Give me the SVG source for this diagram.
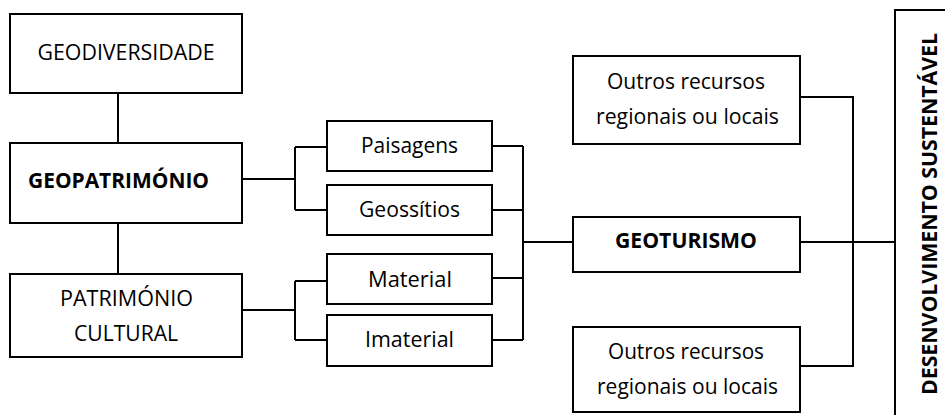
<svg xmlns="http://www.w3.org/2000/svg" width="945" height="415" viewBox="0 0 945 415">
<style>
.box{fill:#fff;stroke:#000;stroke-width:2}
.ln{fill:none;stroke:#000;stroke-width:2}
.t{font-family:"Open Sans","Noto Sans","Liberation Sans",sans-serif;font-size:21px;fill:#000;text-anchor:middle}
.b{font-weight:bold}
</style>
<rect width="945" height="415" fill="#fff"/>
<g id="connectors" class="ln">
<path d="M118 93V143"/>
<path d="M118 223V274"/>
<path d="M242 179H295M295 147V210M295 147H327M295 210H327"/>
<path d="M242 310H295M295 281V340M295 281H327M295 340H327"/>
<path d="M492 146H523M492 210H523M492 278H523M492 340H523M523 146V340M523 242H573"/>
<path d="M800 97H853V366H800M800 242H895"/>
</g>
<g id="geodiversidade"><rect class="box" x="10" y="14" width="232" height="79"/><text class="t" x="126" y="60" textLength="177" lengthAdjust="spacingAndGlyphs">GEODIVERSIDADE</text></g>
<g id="geopatrimonio"><rect class="box" x="10" y="143" width="232" height="80"/><text class="t b" x="28" y="188" style="text-anchor:start" textLength="181" lengthAdjust="spacingAndGlyphs">GEOPATRIMÓNIO</text></g>
<g id="patrimonio-cultural"><rect class="box" x="10" y="274" width="232" height="83"/><text class="t" x="126.5" y="306" textLength="133" lengthAdjust="spacingAndGlyphs">PATRIMÓNIO</text><text class="t" x="126" y="341" textLength="104" lengthAdjust="spacingAndGlyphs">CULTURAL</text></g>
<g id="paisagens"><rect class="box" x="327" y="121" width="165" height="50"/><text class="t" x="409.5" y="153" textLength="97" lengthAdjust="spacingAndGlyphs">Paisagens</text></g>
<g id="geossitios"><rect class="box" x="327" y="185" width="165" height="50"/><text class="t" x="409.5" y="217" textLength="101" lengthAdjust="spacingAndGlyphs">Geossítios</text></g>
<g id="material"><rect class="box" x="327" y="254" width="165" height="50"/><text class="t" x="410" y="287" textLength="84" lengthAdjust="spacingAndGlyphs">Material</text></g>
<g id="imaterial"><rect class="box" x="327" y="315" width="165" height="51"/><text class="t" x="409.5" y="347" textLength="89" lengthAdjust="spacingAndGlyphs">Imaterial</text></g>
<g id="outros1"><rect class="box" x="573" y="56" width="227" height="88"/><text class="t" x="686" y="89" textLength="158" lengthAdjust="spacingAndGlyphs">Outros recursos</text><text class="t" x="687.5" y="124" textLength="183" lengthAdjust="spacingAndGlyphs">regionais ou locais</text></g>
<g id="geoturismo"><rect class="box" x="573" y="217" width="227" height="55"/><text class="t b" x="686" y="248" textLength="142" lengthAdjust="spacingAndGlyphs">GEOTURISMO</text></g>
<g id="outros2"><rect class="box" x="573" y="327" width="227" height="85"/><text class="t" x="686" y="359" textLength="156" lengthAdjust="spacingAndGlyphs">Outros recursos</text><text class="t" x="687.5" y="394" textLength="181" lengthAdjust="spacingAndGlyphs">regionais ou locais</text></g>
<g id="desenvolvimento"><path class="ln" d="M946 10H895V416"/><text class="t b" transform="translate(937 395) rotate(-90)" x="0" y="0" style="text-anchor:start" textLength="362" lengthAdjust="spacingAndGlyphs">DESENVOLVIMENTO SUSTENTÁVEL</text></g>
</svg>
